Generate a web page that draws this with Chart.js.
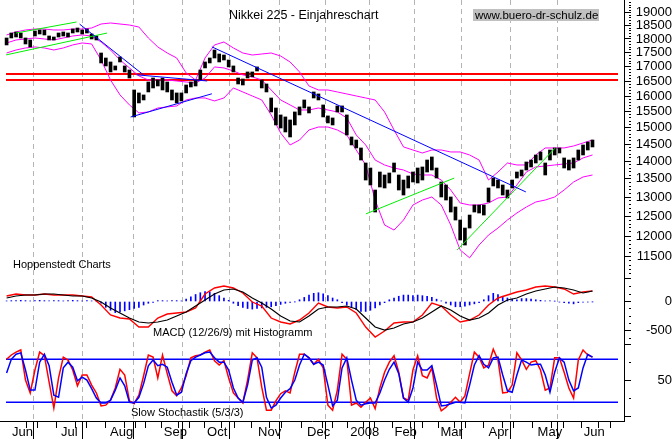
<!DOCTYPE html>
<html>
<head>
<meta charset="utf-8">
<script src="https://cdn.jsdelivr.net/npm/chart.js@4.4.1/dist/chart.umd.min.js"></script>
<style>
  html, body { margin: 0; padding: 0; background: #fff; }
</style>
</head>
<body>
<canvas id="chart" width="672" height="439"></canvas>
<script>
// Achse: Handelstage ab Anfang Juni 2007
const monthDays   = [0, 20.8, 41.5, 64.3, 82.6, 104.2, 124.9, 143.2, 161.9, 181.4, 201.7, 222.5, 242];
const monthLabels = ['Jun', 'Jul', 'Aug', 'Sep', 'Oct', 'Nov', 'Dec', '2008', 'Feb', 'Mar', 'Apr', 'May', 'Jun'];
const weekDays = [5.3, 9.8, 14.7, 25.7, 30.6, 35.4, 46.5, 51.3, 55.5, 59.7, 69.3, 74.2, 78.3, 87.2, 92.9, 97.7,
  107.9, 112.9, 117.8, 130.2, 134.9, 138.6, 148.2, 152.3, 157.2, 167.6, 172.4, 177.3, 186.3, 191.1, 195.2,
  206.3, 211.2, 216.0, 227.1, 231.9, 237.4, 247.1, 252.0];

const priceTicks = [11500, 12000, 12500, 13000, 13500, 14000, 14500, 15000, 15500, 16000, 16500, 17000, 17500, 18000, 18500, 19000];
const macdTicks  = [0, -500];
const stochTicks = [50];

// Kurse (Hoch / Tief), je ein Balken fuer 2 Handelstage
const priceHigh = [
  18037, 18223, 18261, 18223, 18037, 17963, 18298, 18336, 18336, 18111,
  18074, 18223, 18261, 18223, 18373, 18411, 18336, 18373, 18186, 18111,
  17488, 17309, 17168, 17028, 17345, 17028, 16887, 16207, 16108, 16042,
  16475, 16611, 16543, 16611, 16475, 16207, 16108, 16108, 16374, 16475,
  16543, 16887, 17168, 17309, 17596, 17452, 17416, 17238, 17028, 16611,
  16577, 16819, 16819, 16994, 16543, 16408, 15942, 15617, 15395, 15332,
  15237, 15490, 15651, 15877, 15651, 16141, 16075, 15715, 15364, 15300,
  15683, 15683, 15395, 14713, 14621, 14384, 13946, 13803, 13192, 13690,
  13606, 13662, 13946, 13606, 13466, 13578, 13690, 13803, 13832, 14032,
  14120, 13803, 13411, 13329, 13004, 12739, 12402, 12199, 12530, 12791,
  12791, 12791, 13247, 13522, 13466, 13329, 13192, 13466, 13690, 13746,
  13975, 14032, 14178, 14266, 13946, 14324, 14384, 14384, 14091, 14032,
  14091, 14324, 14473, 14561, 14621
];
const priceLow = [
  17780, 18037, 18074, 18037, 17816, 17707, 18111, 18186, 18149, 17963,
  17963, 18074, 18111, 18074, 18223, 18261, 18186, 18223, 18000, 17963,
  17133, 17028, 16819, 16887, 17168, 16819, 16611, 15332, 15780, 15877,
  16141, 16274, 16341, 16207, 16141, 15877, 15780, 15845, 16108, 16307,
  16341, 16543, 16959, 17133, 17309, 17168, 17238, 16994, 16819, 16408,
  16374, 16611, 16650, 16853, 16274, 16141, 15490, 15081, 14988, 14865,
  14713, 15081, 15395, 15617, 15458, 15942, 15877, 15332, 15144, 15081,
  15490, 15490, 14773, 14473, 14384, 14032, 13466, 13329, 12608, 13274,
  13247, 13384, 13690, 13192, 13057, 13247, 13411, 13384, 13466, 13690,
  13746, 13522, 13004, 12923, 12608, 12402, 11902, 11780, 12199, 12608,
  12582, 12530, 12870, 13302, 13247, 13057, 12977, 13247, 13522, 13578,
  13746, 13832, 13946, 14032, 13606, 14032, 14178, 14236, 13803, 13746,
  13803, 14032, 14178, 14324, 14414
];

// Bollinger-Baender, alle 4 Handelstage
const bollUpper = [
  18149, 18261, 18336, 18373, 18373, 18336, 18336, 18373, 18373, 18411,
  18563, 18602, 18563, 18524, 18448, 18037, 17707, 17488, 17309, 16785,
  16543, 17309, 17780, 17889, 17670, 17488, 17416, 17452, 17488, 17380,
  17168, 16819, 16341, 16207, 16207, 16141, 16075, 16008, 15942, 15877,
  15490, 14926, 14414, 14324, 14236, 14324, 14324, 14266, 14266, 14178,
  14032, 13466, 13690, 13946, 13889, 13889, 14178, 14384, 14384, 14384,
  14443, 14532, 14621
];
const bollMiddle = [
  17853, 17963, 18000, 18037, 18000, 17963, 18037, 18111, 18149, 18111,
  17889, 17596, 17238, 16959, 16683, 16543, 16543, 16543, 16509, 16475,
  16441, 16611, 16994, 16959, 16853, 16718, 16650, 16543, 16207, 15877,
  15715, 15553, 15553, 15617, 15553, 15490, 15300, 14773, 14473, 14032,
  13889, 13803, 13746, 13634, 13606, 13606, 13466, 13192, 12844, 12791,
  12791, 12844, 12977, 13004, 13329, 13690, 13832, 13860, 13889, 13918,
  13946, 14091, 14178
];
const bollLower = [
  17488, 17596, 17670, 17707, 17670, 17596, 17670, 17780, 17853, 17816,
  17238, 16543, 16042, 15715, 15458, 15490, 15617, 15651, 15683, 15877,
  15942, 15942, 15845, 15942, 16274, 16141, 16008, 15877, 15395, 14834,
  14473, 14621, 14926, 15018, 15018, 14926, 14773, 14324, 13889, 12923,
  12275, 12149, 12402, 12791, 12923, 13004, 12791, 12275, 11660, 11473,
  11780, 12025, 12199, 12402, 12582, 12739, 12870, 12923, 13004, 13192,
  13411, 13550, 13606
];

// MACD (12/26/9), alle 4 Handelstage
const macdLine = [
  94, 128, 111, 111, 128, 111, 111, 111, 94, 77,
  -60, -231, -283, -300, -437, -437, -283, -214, -197, -180,
  -111, 128, 231, 265, 231, 146, -9, -77, -283, -351,
  -385, -317, -197, -26, -94, -111, -94, -197, -437, -608,
  -505, -368, -351, -351, -231, -26, -77, -231, -351, -317,
  -231, -60, 60, 111, 163, 197, 248, 265, 248, 214,
  128, 163, 180
];
const macdSignal = [
  60, 94, 111, 111, 128, 128, 111, 94, 94, 60,
  -9, -111, -197, -283, -351, -368, -351, -317, -248, -180,
  -77, 26, 128, 197, 214, 163, 60, -26, -128, -248,
  -334, -351, -248, -128, -94, -94, -77, -128, -283, -437,
  -488, -454, -385, -351, -283, -180, -77, -146, -248, -317,
  -283, -197, -60, 26, 60, 128, 180, 214, 248, 231,
  197, 146, 180
];
// Histogramm, alle 2 Handelstage
const macdHist = [
  10, 15, 15, 20, 15, 10, 15, 20, 15, 10, 15, 15, 10, 15, 20, 15, 10, 15, 10, 5,
  -30, -100, -150, -190, -180, -160, -140, -120, -100, -60, -30, -15,
  15, 15, 10, 15, 15, 10,
  40, 80, 120, 150, 170, 165, 140, 100, 60, 20,
  -30, -70, -100, -120, -130, -120, -110, -100, -90, -70, -50, -30, -15, -5,
  30, 70, 110, 140, 150, 130, 100, 60, 30,
  -20, -60, -100, -140, -170, -170, -150, -110, -60, -20,
  30, 60, 90, 110, 110, 100, 110, 100, 90, 70, 40, 10,
  -30, -60, -90, -90, -80, -60, -40, -20,
  30, 100, 140, 120, 90, 60, 40, 30,
  50, 50, 40, 30, 20, 10, 10, 5,
  -10, -20, -30, -40, -20, -10, -10, -5
];

// Slow Stochastik (5/3/3), alle 2 Handelstage
const stochK = [
  80, 86, 90, 93, 51, 33, 65, 90, 85, 48,
  12, 54, 83, 79, 65, 43, 58, 58, 44, 33,
  15, 16, 23, 40, 66, 58, 22, 18, 30, 57,
  86, 83, 54, 86, 60, 36, 29, 40, 57, 82,
  85, 86, 90, 93, 78, 72, 78, 54, 33, 26,
  19, 51, 89, 82, 41, 9, 9, 22, 32, 36,
  33, 62, 87, 87, 82, 73, 80, 68, 16, 9,
  37, 87, 80, 16, 19, 13, 20, 26, 11, 40,
  62, 76, 85, 62, 26, 23, 65, 85, 57, 54,
  68, 26, 8, 13, 20, 27, 20, 29, 60, 90,
  83, 68, 72, 94, 79, 33, 34, 44, 89, 79,
  66, 76, 78, 65, 37, 40, 82, 82, 62, 40,
  26, 79, 93, 86, 83
];
const stochD = [
  61, 80, 87, 89, 65, 37, 37, 76, 87, 71,
  30, 27, 68, 76, 69, 50, 55, 51, 39, 26,
  19, 19, 23, 37, 54, 43, 20, 19, 27, 46,
  71, 79, 71, 73, 69, 48, 30, 34, 60, 78,
  83, 86, 89, 90, 82, 76, 76, 65, 40, 26,
  20, 44, 79, 82, 69, 27, 12, 16, 26, 34,
  39, 51, 72, 87, 82, 73, 76, 72, 44, 15,
  23, 68, 82, 51, 23, 16, 18, 19, 19, 33,
  51, 66, 76, 60, 26, 20, 40, 76, 65, 65,
  71, 44, 15, 16, 18, 20, 20, 19, 44, 72,
  85, 73, 68, 82, 83, 58, 36, 34, 58, 79,
  76, 72, 73, 73, 58, 34, 62, 82, 76, 51,
  36, 40, 68, 87, 83
];

// Trendlinien [Tag, Kurs] und Widerstaende
const blueTrends = [
  [[29.9, 18560], [56.9, 16720]],
  [[51.5, 15330], [85.9, 16080]],
  [[54.0, 16720], [83.9, 16510]],
  [[85.9, 17710], [218.8, 13140]]
];
const greenTrends = [
  [[-1.2, 17420], [41.5, 18220]],
  [[2.9, 18220], [28.6, 18640]],
  [[151.1, 12560], [188.5, 13520]],
  [[189.7, 11660], [231.2, 14380]]
];
const resistance = [16750, 16540];
const stochLevels = [80, 20];

const X_MIN = -1.25, X_MAX = 257.8;
const FONT = "'Liberation Sans', Arial, sans-serif";

const barDay = i => 2 * i - 1;
const bandDay = j => 4 * j - 1;

function lineSet(points, color, axis, width) {
  return {
    type: 'line', yAxisID: axis, data: points, borderColor: color,
    borderWidth: width || 1, pointRadius: 0, tension: 0, fill: false
  };
}
const xy = (arr, dayFn) => arr.map((v, i) => ({ x: dayFn(i), y: v }));
const span = v => [{ x: X_MIN, y: v }, { x: X_MAX, y: v }];

const datasets = [];
blueTrends.forEach(t => datasets.push(lineSet(t.map(p => ({ x: p[0], y: p[1] })), '#0000ff', 'yMain')));
greenTrends.forEach(t => datasets.push(lineSet(t.map(p => ({ x: p[0], y: p[1] })), '#00ee00', 'yMain')));
datasets.push({
  type: 'bar', yAxisID: 'yMain', grouped: false, barThickness: 3, backgroundColor: '#000', borderWidth: 0,
  data: priceHigh.map((h, i) => ({ x: barDay(i), y: [priceLow[i], h] }))
});
datasets.push(lineSet(xy(bollUpper, bandDay), '#ff00ff', 'yMain'));
datasets.push(lineSet(xy(bollMiddle, bandDay), '#ff00ff', 'yMain'));
datasets.push(lineSet(xy(bollLower, bandDay), '#ff00ff', 'yMain'));
resistance.forEach(v => datasets.push(lineSet(span(v), '#ff0000', 'yMain', 2)));

datasets.push(lineSet(xy(macdSignal, bandDay), '#000000', 'yMacd', 1.2));
datasets.push(lineSet(xy(macdLine, bandDay), '#ff0000', 'yMacd', 1.4));
datasets.push({
  type: 'bar', yAxisID: 'yMacd', grouped: false, barThickness: 1, backgroundColor: '#0000ff', borderWidth: 0,
  data: xy(macdHist, barDay)
});

datasets.push(lineSet(xy(stochD, barDay), '#0000ff', 'yStoch', 1.5));
datasets.push(lineSet(xy(stochK, barDay), '#ff0000', 'yStoch', 1.5));
stochLevels.forEach(v => datasets.push(lineSet(span(v), '#0000ff', 'yStoch', 1.5)));

const isMonth = c => c.tick && monthDays.indexOf(c.tick.value) >= 0;

function rightAxis(weight, min, max, tickFn, majorFn, labelFn, pad) {
  return {
    type: 'linear', position: 'right', stack: 'panels', stackWeight: weight,
    min: min, max: max, bounds: 'data',
    afterBuildTicks: s => { s.ticks = tickFn().map(v => ({ value: v })); },
    afterFit: s => { s.width = 48; s.paddingTop = 0; s.paddingBottom = 0; },
    ticks: {
      autoSkip: false, crossAlign: 'far', padding: pad, color: '#000',
      font: { family: FONT, size: 13 }, callback: labelFn
    },
    grid: {
      drawOnChartArea: false, tickLength: 7, tickColor: '#000',
      tickBorderDash: c => (c.tick && majorFn(c.tick.value)) ? [] : [0, 4, 3, 20]
    },
    border: { color: '#000', width: 1 }
  };
}

function mainTicks() {
  const t = [];
  for (let v = 11000; v <= 19400; v += 100) t.push(v);
  return t;
}
const yMain = rightAxis(280, 10962, 19503, mainTicks,
  v => v % 500 === 0,
  v => priceTicks.indexOf(v) >= 0 ? String(v) : '', 2);
yMain.type = 'logarithmic';

const yMacd = rightAxis(60, -659, 368, () => [-625, -500, -375, -250, -125, 0, 125, 250],
  v => v % 500 === 0,
  v => macdTicks.indexOf(v) >= 0 ? String(v) : '', 12);

const yStoch = rightAxis(81, -6.1, 106.9, () => [0, 25, 50, 75, 100],
  v => v % 50 === 0,
  v => stochTicks.indexOf(v) >= 0 ? String(v) : '', 23);

const notes = {
  id: 'notes',
  afterDraw(chart) {
    const ctx = chart.ctx;
    ctx.save();
    ctx.fillStyle = '#c0c0c0';
    ctx.fillRect(473, 9, 126, 12);
    ctx.fillStyle = '#000';
    ctx.textBaseline = 'middle';
    ctx.textAlign = 'left';
    ctx.font = '12.5px ' + FONT;
    ctx.fillText('Nikkei 225 - Einjahreschart', 229, 16);
    ctx.font = '11.5px ' + FONT;
    ctx.fillText('www.buero-dr-schulz.de', 475, 15.5);
    ctx.font = '11px ' + FONT;
    ctx.fillText('Hoppenstedt Charts', 13, 264.5);
    ctx.fillText('MACD (12/26/9) mit Histogramm', 153, 333);
    ctx.fillText('Slow Stochastik (5/3/3)', 131, 413);
    ctx.restore();
  }
};

new Chart(document.getElementById('chart'), {
  type: 'line',
  data: { datasets: datasets },
  plugins: [notes],
  options: {
    responsive: false,
    animation: false,
    events: [],
    layout: { padding: 0 },
    plugins: { legend: { display: false }, tooltip: { enabled: false } },
    scales: {
      yMain: yMain,
      yMacd: yMacd,
      yStoch: yStoch,
      x: {
        type: 'linear', position: 'bottom', min: X_MIN, max: X_MAX, bounds: 'data',
        afterBuildTicks: s => {
          s.ticks = monthDays.concat(weekDays).map(v => ({ value: v }));
        },
        afterFit: s => { s.height = 18; s.paddingLeft = 0; s.paddingRight = 0; },
        ticks: {
          autoSkip: false, maxRotation: 0, align: 'start', labelOffset: 3, padding: -14,
          color: '#000', font: { family: FONT, size: 13 },
          callback: v => {
            const i = monthDays.indexOf(v);
            return i >= 0 ? monthLabels[i] : '';
          }
        },
        grid: {
          color: c => isMonth(c) ? '#b4b4b4' : 'rgba(0,0,0,0)',
          tickColor: '#000', tickLength: 18,
          tickBorderDash: c => isMonth(c) ? [] : [6, 40]
        },
        border: { color: '#000', width: 1, dash: [5, 4] }
      }
    }
  }
});
</script>
</body>
</html>
